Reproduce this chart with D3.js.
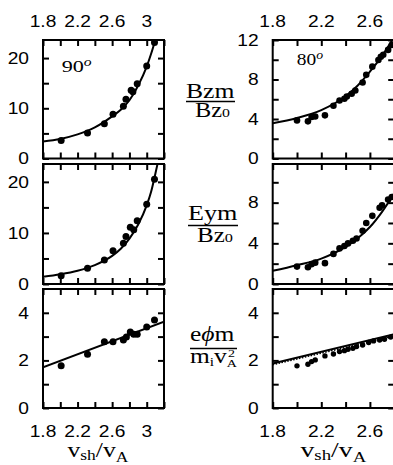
<!DOCTYPE html>
<html><head><meta charset="utf-8">
<script src="https://cdn.jsdelivr.net/npm/d3@7"></script>
<style>body{margin:0;background:#fff}</style>
</head><body>
<svg id="c" width="393" height="465"></svg>
<script>
// ---------- data ----------
const xTicks90 = [1.8, 2.0, 2.2, 2.4, 2.6, 2.8, 3.0, 3.2];
const xLabels90 = [1.8, 2.2, 2.6, 3];
const xTicks80 = [1.8, 2.0, 2.2, 2.4, 2.6, 2.8];
const xLabels80 = [1.8, 2.2, 2.6];
const yTicksBig = [0, 5, 10, 15, 20];
const yLabelsBig = [0, 10, 20];
const yTicksMid = [0, 2, 4, 6, 8, 10, 12];
const yLabelsTopR = [0, 4, 8, 12];
const yLabelsMidR = [0, 4, 8];
const yTicksPhi = [0, 1, 2, 3, 4];
const yLabelsPhi = [0, 2, 4];

// 90 degree, Bzm/Bz0
const bzm90PtsX = [2.01, 2.315, 2.51, 2.61, 2.73, 2.76, 2.82, 2.84, 2.89, 3.0, 3.09];
const bzm90PtsY = [3.6, 5.1, 6.9, 8.8, 10.4, 11.8, 13.6, 13.3, 14.9, 18.4, 23.1];
const bzm90FitX = [1.8, 2.0, 2.2, 2.4, 2.6, 2.7, 2.8, 2.9, 3.0, 3.05, 3.1];
const bzm90FitY = [3.4, 3.9, 4.8, 6.2, 8.4, 9.7, 11.6, 14.5, 18.3, 20.8, 23.6];
// 90 degree, Eym/Bz0
const eym90PtsX = [2.01, 2.315, 2.51, 2.61, 2.73, 2.76, 2.81, 2.85, 2.89, 3.0, 3.09];
const eym90PtsY = [1.6, 3.1, 4.7, 6.5, 8.0, 9.3, 11.1, 10.6, 12.4, 15.6, 20.5];
const eym90FitX = [1.8, 2.0, 2.2, 2.4, 2.6, 2.7, 2.8, 2.9, 3.0, 3.05, 3.1, 3.125];
const eym90FitY = [1.4, 1.9, 2.6, 3.7, 5.5, 6.9, 8.9, 11.6, 15.4, 18.0, 21.6, 23.5];
// 90 degree, e phi_m / m_i vA^2
const phi90PtsX = [2.01, 2.315, 2.51, 2.61, 2.73, 2.765, 2.81, 2.85, 2.89, 3.0, 3.09];
const phi90PtsY = [1.77, 2.26, 2.78, 2.78, 2.86, 2.98, 3.19, 3.1, 3.1, 3.4, 3.7];
const phi90FitX = [1.8, 3.2];
const phi90FitY = [1.71, 3.63];
// 80 degree, Bzm/Bz0
const bzm80PtsX = [2.0, 2.09, 2.12, 2.15, 2.23, 2.30, 2.35, 2.39, 2.41, 2.45, 2.48, 2.54, 2.57, 2.62, 2.67, 2.69, 2.71, 2.75, 2.78];
const bzm80PtsY = [3.86, 3.76, 4.2, 4.26, 4.37, 5.34, 5.88, 6.05, 6.28, 6.55, 6.89, 7.7, 8.47, 9.3, 9.98, 10.3, 10.5, 11.0, 11.5];
const bzm80FitX = [1.8, 2.0, 2.2, 2.4, 2.5, 2.6, 2.7, 2.8];
const bzm80FitY = [3.56, 4.1, 4.9, 6.3, 7.4, 8.8, 10.4, 12.3];
// 80 degree, Eym/Bz0
const eym80PtsX = [2.0, 2.09, 2.12, 2.15, 2.23, 2.30, 2.35, 2.39, 2.42, 2.46, 2.49, 2.54, 2.57, 2.62, 2.68, 2.70, 2.75, 2.78];
const eym80PtsY = [1.71, 1.65, 1.95, 2.1, 2.05, 2.96, 3.5, 3.73, 3.99, 4.25, 4.48, 5.23, 6.0, 6.7, 7.5, 7.75, 8.3, 8.56];
const eym80FitX = [1.8, 2.0, 2.2, 2.4, 2.5, 2.6, 2.7, 2.8];
const eym80FitY = [1.3, 1.85, 2.5, 3.65, 4.5, 5.6, 7.1, 8.9];
// 80 degree, e phi_m / m_i vA^2
const phi80PtsX = [2.0, 2.09, 2.12, 2.15, 2.23, 2.30, 2.35, 2.39, 2.42, 2.46, 2.49, 2.54, 2.59, 2.63, 2.68, 2.72, 2.77];
const phi80PtsY = [1.77, 1.84, 1.95, 2.02, 2.19, 2.27, 2.37, 2.41, 2.47, 2.51, 2.58, 2.65, 2.75, 2.82, 2.86, 2.89, 2.98];
const phi80FitX = [1.8, 2.8];
const phi80FitY = [1.87, 3.1];
const phi80DotX = [1.8, 2.8];
const phi80DotY = [1.82, 3.03];

// ---------- drawing ----------
const SANS = "'Liberation Sans', Arial, Helvetica, sans-serif";
const SERIF = "'Liberation Serif', 'Times New Roman', serif";
const svg = d3.select('#c');
const zip = (a, b) => a.map((v, i) => [v, b[i]]);
let clipN = 0;

function numLabel(x, y, txt, anchor) {
  svg.append('text')
    .attr('transform', `translate(${x},${y}) scale(1.2,1)`)
    .attr('text-anchor', anchor)
    .attr('font-family', SANS).attr('font-size', 16).attr('fill', '#000')
    .text(txt);
}

function panel(c) {
  const x = d3.scaleLinear().domain(c.xd).range(c.xr);
  const y = d3.scaleLinear().domain(c.yd).range(c.yr);
  const id = 'clip' + (clipN++);
  svg.append('clipPath').attr('id', id).append('rect')
    .attr('x', c.xr[0]).attr('y', c.yr[1])
    .attr('width', c.xr[1] - c.xr[0]).attr('height', c.yr[0] - c.yr[1]);
  const g = svg.append('g');
  const T = 6;
  const axes = [
    [d3.axisTop(x).tickValues(c.xt), `translate(0,${c.yr[1]})`],
    [d3.axisBottom(x).tickValues(c.xt), `translate(0,${c.yr[0]})`],
    [d3.axisLeft(y).tickValues(c.yt), `translate(${c.xr[0]},0)`],
    [d3.axisRight(y).tickValues(c.yt), `translate(${c.xr[1]},0)`]
  ];
  axes.forEach(([ax, tr]) => {
    const a = g.append('g').attr('transform', tr)
      .call(ax.tickSize(-T).tickSizeOuter(0).tickFormat(''));
    a.select('.domain').remove();
    a.selectAll('line').attr('stroke', '#000').attr('stroke-width', 2);
  });
  g.append('rect').attr('x', c.xr[0]).attr('y', c.yr[1])
    .attr('width', c.xr[1] - c.xr[0]).attr('height', c.yr[0] - c.yr[1])
    .attr('fill', 'none').attr('stroke', '#000').attr('stroke-width', 2);

  const pg = g.append('g').attr('clip-path', `url(#${id})`);
  const line = d3.line().x(d => x(d[0])).y(d => y(d[1])).curve(d3.curveMonotoneX);
  c.lines.forEach(L => {
    pg.append('path').datum(zip(L.x, L.y)).attr('d', line)
      .attr('fill', 'none').attr('stroke', '#000')
      .attr('stroke-width', L.w || 2)
      .attr('stroke-dasharray', L.dash || null);
  });
  pg.selectAll('circle.pt').data(zip(c.px, c.py)).join('circle')
    .attr('cx', d => x(d[0])).attr('cy', d => y(d[1])).attr('r', c.r || 3.5)
    .attr('fill', '#000');

  c.yl.forEach(v => numLabel(c.xr[0] - 14, y(v) + 5.8, String(v), 'end'));
  if (c.top) c.xl.forEach(v => numLabel(x(v), 27, String(v), 'middle'));
  if (c.bottom) c.xl.forEach(v => numLabel(x(v), 437, String(v), 'middle'));
}

const LX = [43, 164], RX = [272.7, 394.2];
const R1 = [158.5, 40], R2 = [284, 164], R3 = [408, 289];

panel({xd: [1.8, 3.2], xr: LX, yd: [0, 23.6], yr: R1, xt: xTicks90, xl: xLabels90, yt: yTicksBig, yl: yLabelsBig, top: true,
  px: bzm90PtsX, py: bzm90PtsY, lines: [{x: bzm90FitX, y: bzm90FitY}]});
panel({xd: [1.8, 3.2], xr: LX, yd: [0, 23.5], yr: R2, xt: xTicks90, xl: xLabels90, yt: yTicksBig, yl: yLabelsBig,
  px: eym90PtsX, py: eym90PtsY, lines: [{x: eym90FitX, y: eym90FitY}]});
panel({xd: [1.8, 3.2], xr: LX, yd: [0, 5], yr: R3, xt: xTicks90, xl: xLabels90, yt: yTicksPhi, yl: yLabelsPhi, bottom: true,
  px: phi90PtsX, py: phi90PtsY, lines: [{x: phi90FitX, y: phi90FitY}]});
panel({xd: [1.8, 2.8], xr: RX, yd: [0, 12], yr: R1, xt: xTicks80, xl: xLabels80, yt: yTicksMid, yl: yLabelsTopR, top: true,
  px: bzm80PtsX, py: bzm80PtsY, r: 3.3, lines: [{x: bzm80FitX, y: bzm80FitY}]});
panel({xd: [1.8, 2.8], xr: RX, yd: [0, 11.8], yr: R2, xt: xTicks80, xl: xLabels80, yt: yTicksMid.slice(0, 6), yl: yLabelsMidR,
  px: eym80PtsX, py: eym80PtsY, r: 3.3, lines: [{x: eym80FitX, y: eym80FitY}]});
panel({xd: [1.8, 2.8], xr: RX, yd: [0, 5], yr: R3, xt: xTicks80, xl: xLabels80, yt: yTicksPhi, yl: yLabelsPhi, bottom: true,
  px: phi80PtsX, py: phi80PtsY, r: 2.7,
  lines: [{x: phi80FitX, y: phi80FitY}, {x: phi80DotX, y: phi80DotY, w: 1.5, dash: '1.5,1.5'}]});

// ---------- serif labels fitted to measured widths ----------
function fitText(parts, o) {
  const t = svg.append('text').attr('font-family', SERIF).attr('font-size', o.size).attr('fill', '#000');
  let prev = null;
  parts.forEach(p => {
    const s = t.append('tspan').text(p.t);
    if (p.size) s.attr('font-size', p.size);
    if (p.italic) s.attr('font-style', 'italic');
    let dx = p.dx || 0;
    if (p.back && prev) dx -= prev.node().getComputedTextLength();
    if (dx) s.attr('dx', dx);
    if (p.dy) s.attr('dy', p.dy);
    prev = s;
  });
  const bb = t.node().getBBox();
  const sx = o.width / bb.width;
  const left = (o.cx !== undefined) ? o.cx - o.width / 2 : o.x0;
  t.attr('transform', `translate(${left - bb.x * sx},${o.baseline}) scale(${sx},1)`);
}
function bar(x1, x2, yy) {
  svg.append('line').attr('x1', x1).attr('x2', x2).attr('y1', yy).attr('y2', yy)
    .attr('stroke', '#000').attr('stroke-width', 1.4);
}

// Bzm / Bz0
fitText([{t: 'Bzm'}], {cx: 210.5, baseline: 98.3, width: 49, size: 20});
bar(186, 235, 101.5);
fitText([{t: 'Bz'}, {t: '0', size: 13}], {cx: 212.5, baseline: 116.7, width: 35, size: 20});
// Eym / Bz0
fitText([{t: 'Eym'}], {cx: 213, baseline: 220, width: 50, size: 20});
bar(188, 238, 225.5);
fitText([{t: 'Bz'}, {t: '0', size: 13}], {cx: 215, baseline: 242, width: 36, size: 20});
// e phi_m / m_i vA^2
fitText([{t: 'e'}, {t: 'ϕ', italic: true}, {t: 'm'}], {cx: 212.5, baseline: 341, width: 45, size: 20});
bar(190, 237, 348.5);
fitText([{t: 'm'}, {t: 'i', size: 12, dy: 3}, {t: 'v', dy: -3}, {t: 'A', size: 11, dy: 4}, {t: '2', size: 11, dy: -10, back: true, dx: 1}],
  {cx: 213.5, baseline: 363, width: 47, size: 20});

// axis titles
fitText([{t: 'v'}, {t: 'sh', size: 15, dy: 3}, {t: '/', dy: -3}, {t: 'v'}, {t: 'A', size: 15, dy: 5}],
  {cx: 98, baseline: 457, width: 61, size: 22});
fitText([{t: 'v'}, {t: 'sh', size: 15, dy: 3}, {t: '/', dy: -3}, {t: 'v'}, {t: 'A', size: 15, dy: 5}],
  {cx: 333.5, baseline: 457, width: 66, size: 22});

// angle annotations
fitText([{t: '90'}, {t: 'o', size: 12, italic: true, dy: -6}], {x0: 61.7, baseline: 71.7, width: 30, size: 17});
fitText([{t: '80'}, {t: 'o', size: 12, italic: true, dy: -6}], {x0: 296.7, baseline: 65, width: 26.3, size: 17});
</script>
</body></html>
